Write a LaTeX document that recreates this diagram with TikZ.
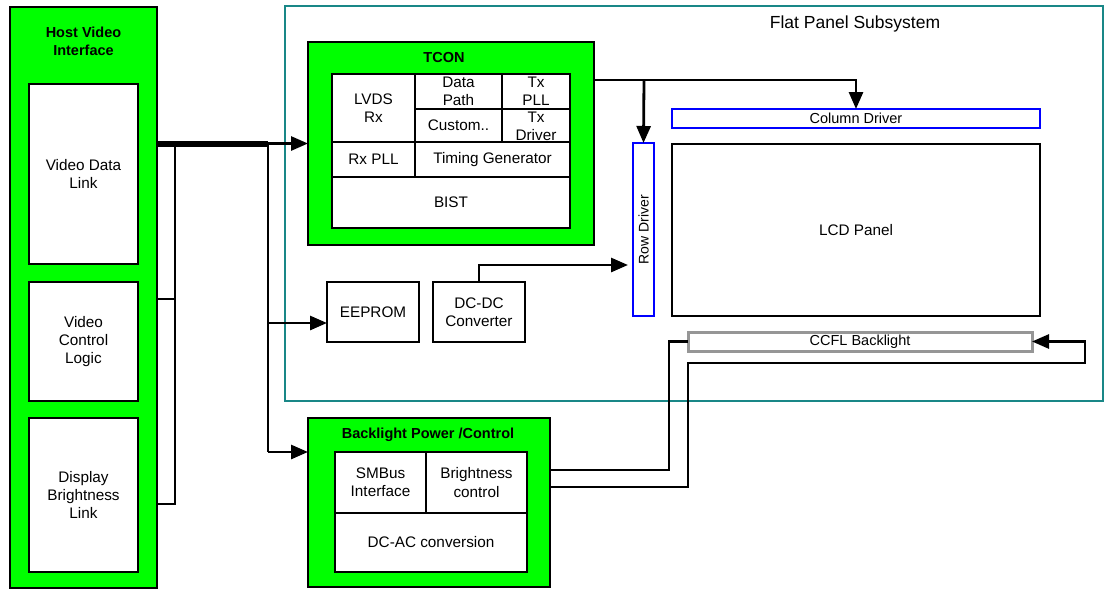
\documentclass[tikz,border=0pt]{standalone}
\usepackage{fontspec}
\setmainfont{Liberation Sans}
\usetikzlibrary{arrows.meta,calc}
\definecolor{hgreen}{RGB}{0,255,0}
\definecolor{teal2}{RGB}{25,135,135}
\definecolor{ccflgray}{RGB}{150,150,150}
\begin{document}
\begin{tikzpicture}[x=1pt,y=-1pt,
  box/.style={draw, rectangle, inner sep=0pt, outer sep=0pt, line width=2.2pt, fill=white,
    font=\fontsize{15.3}{18.3}\selectfont, align=center},
  greenbox/.style={box, fill=hgreen, line width=2.4pt},
  cell/.style={box, line width=1.5pt},
  title/.style={inner sep=0pt, font=\bfseries\fontsize{14.5}{18}\selectfont, align=center},
  bluebox/.style={box, draw=blue, line width=2.8pt},
  conn/.style={line width=2.8pt},
  arr/.style={conn, -{Triangle[length=17pt,width=14pt]}},
  bus/.style={line width=6pt}
]
\useasboundingbox (0,0) rectangle (1106,589);

% Flat panel subsystem
\node[box, draw=teal2, line width=2.6pt, fill=none, minimum width=818, minimum height=395] (fps) at (694,203.5) {};
\node[inner sep=0pt, font=\fontsize{17.5}{20}\selectfont] (fpst) at (855,24) {Flat Panel Subsystem};

% Host video interface
\node[greenbox, minimum width=147, minimum height=581] (host) at (83.5,297.5) {};
\node[title] (hostt) at (83.5,41.5) {Host Video\\Interface};
\node[box, minimum width=109, minimum height=180] (vdl) at (83.5,174) {Video Data\\Link};
\node[box, minimum width=109, minimum height=119] (vcl) at (83.5,341.5) {Video\\Control\\Logic};
\node[box, minimum width=109, minimum height=154] (dbl) at (83.5,495) {Display\\Brightness\\Link};

% TCON
\node[greenbox, minimum width=286, minimum height=203] (tcon) at (451,143.5) {};
\node[title] (tcont) at (444,58) {TCON};
\node[cell, minimum width=83, minimum height=68] (lvds) at (373.5,108) {LVDS\\Rx};
\node[cell, minimum width=87, minimum height=35] (dpath) at (458.5,91.5) {Data\\Path};
\node[cell, minimum width=68, minimum height=35] (txpll) at (536,91.5) {Tx\\PLL};
\node[cell, minimum width=87, minimum height=33] (custom) at (458.5,125.5) {Custom..};
\node[cell, minimum width=68, minimum height=33] (txdrv) at (536,126) {Tx\\Driver};
\node[cell, minimum width=83, minimum height=35] (rxpll) at (373.5,159.5) {Rx PLL};
\node[cell, minimum width=155, minimum height=35] (timing) at (492.5,159.5) {Timing Generator};
\node[cell, minimum width=238, minimum height=51] (bist) at (451,202.5) {BIST};
\node[box, fill=none, line width=2.5pt, minimum width=238, minimum height=154] (tconin) at (451,151) {};

% EEPROM, DC-DC
\node[box, minimum width=92, minimum height=60] (eeprom) at (373,312) {EEPROM};
\node[box, minimum width=92, minimum height=60] (dcdc) at (479,312) {DC-DC\\Converter};

% Drivers and panel
\node[bluebox, minimum width=21, minimum height=173] (row) at (643.5,229.5) {};
\node[inner sep=0pt, rotate=90, font=\fontsize{14}{16}\selectfont] (rowt) at (643.5,229.5) {Row Driver};
\node[bluebox, minimum width=368, minimum height=19, font=\fontsize{14.5}{16}\selectfont] (col) at (856,118.5) {Column Driver};
\node[box, line width=2.6pt, minimum width=368, minimum height=172] (lcd) at (856,230) {LCD Panel};
\node[box, draw=ccflgray, line width=3pt, minimum width=344, minimum height=19, font=\fontsize{14.5}{16}\selectfont] (ccfl) at (860,341.5) {CCFL Backlight};

% Backlight power / control
\node[greenbox, minimum width=242, minimum height=169] (bl) at (429,502.5) {};
\node[title] (blt) at (428,435) {Backlight Power /Control};
\node[cell, minimum width=91, minimum height=61] (smbus) at (380.5,482.5) {SMBus\\Interface};
\node[cell, minimum width=101, minimum height=61] (bright) at (476.5,482.5) {Brightness\\control};
\node[cell, minimum width=192, minimum height=59] (dcac) at (431,542.5) {DC-AC conversion};
\node[box, fill=none, line width=2.5pt, minimum width=192, minimum height=120] (blin) at (431,512) {};

% junction coordinates
\coordinate (j1) at (175,143.5);
\coordinate (j2) at (268,143.5);
\coordinate (j1b) at (175,504);
\coordinate (j1m) at (175,299);
\coordinate (c1) at (688,363);
\coordinate (c2) at (1085,363);
\coordinate (t80) at (644,80);

% bus from host video interface
\draw[bus] (host.east |- j1) -- (j2);
\draw[arr] (j2) -- (tcon.west);
\draw[conn, line width=2.3pt] (j1) -- (j1b) -- (host.east |- j1b);
\draw[conn, line width=2.3pt] (host.east |- j1m) -- (j1m);
\draw[conn] (j2) -- (j2 |- 0,452);
\draw[arr] (j2 |- 0,452) -- ([yshift=50.5pt]bl.west);
\draw[arr] ([yshift=-11pt]eeprom.west -| j2) -- ([yshift=-11pt]eeprom.west);

% TCON to drivers
\draw[arr] ([yshift=63.5pt]tcon.east) -| (col.north);
\draw[arr] (t80) -- (row.north);

% DC-DC to row driver
\draw[arr] (dcdc.north) |- ([xshift=-5pt,yshift=-35.5pt]row.west);

% backlight to CCFL
\draw[conn] ([yshift=32.5pt]bl.east) -| ([xshift=-19pt]ccfl.west) -- (ccfl.west);
\draw[arr] ([yshift=15.5pt]bl.east) -| (c1) -- (c2) |- (ccfl.east);
\end{tikzpicture}
\end{document}
